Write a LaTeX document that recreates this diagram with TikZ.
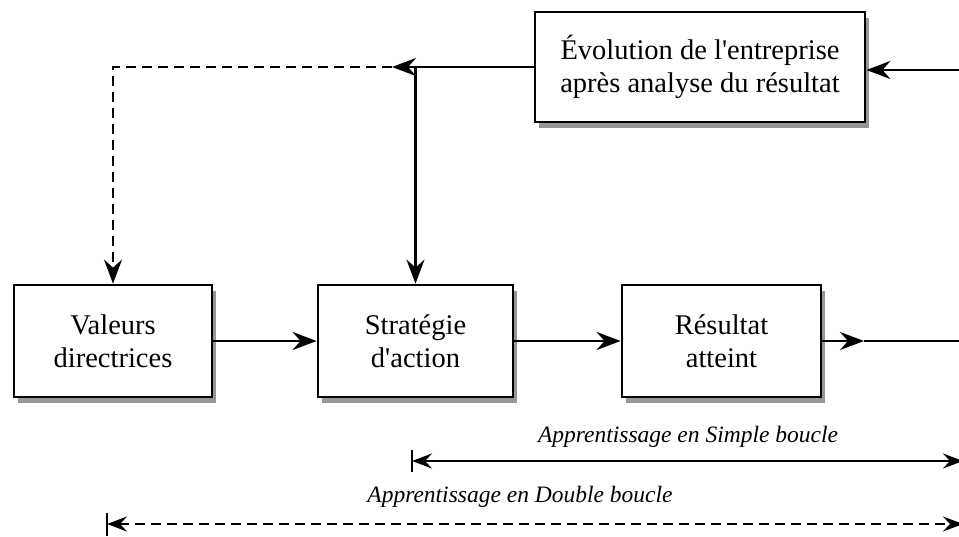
\documentclass[tikz,border=0pt]{standalone}
\usepackage{fontspec}
\setmainfont{Liberation Serif}[Ligatures=TeXOff]
\usetikzlibrary{arrows.meta,shadows,calc}
\begin{document}
\begin{tikzpicture}[x=1pt,y=-1pt,
  boxn/.style={draw=black,line width=2.8pt,fill=white,align=center,inner sep=0pt,
    font=\fontsize{28.5}{33}\selectfont,
    drop shadow={shadow xshift=4pt,shadow yshift=-6pt,opacity=0.55,fill=black!75}},
  conn/.style={line width=2.2pt,-{Stealth[length=24pt,width=18pt,inset=8pt]}},
  dconn/.style={conn,dash pattern=on 10pt off 6pt},
  lbl/.style={font=\fontsize{23.5}{28}\selectfont\itshape}]
\useasboundingbox (0,0) rectangle (959,536);
\fill[white] (0,0) rectangle (959,536);
\node[boxn,minimum width=330pt,minimum height=110pt] (evo) at (700,67) {Évolution de l'entreprise\\après analyse du résultat};
\node[boxn,minimum width=198pt,minimum height=112pt] (val) at (113,341) {Valeurs\\directrices};
\node[boxn,minimum width=195pt,minimum height=112pt] (strat) at (415.5,341) {Stratégie\\d'action};
\node[boxn,minimum width=199pt,minimum height=112pt] (res) at (721.5,341) {Résultat\\atteint};
% coordinates
\coordinate (rin) at (961,70);
\coordinate (tip) at (392,67);
\coordinate (jn) at (415.5,67);
\coordinate (dl) at (113,67);
\coordinate (mid) at (864,341);
\coordinate (rout) at (961,341);
% connectors
\draw[conn] (rin) -- (rin -| evo.east);
\draw[conn] (evo.west |- tip) -- (tip);
\draw[conn] (jn) -- (strat.north);
\draw[dconn] (tip) -- (dl) -- (val.north);
\draw[conn] (val.east) -- (strat.west);
\draw[conn] (strat.east) -- (res.west);
\draw[conn] (res.east) -- (mid);
\draw[line width=2.2pt] (mid) -- (rout);
% simple boucle
\coordinate (s1) at (412,461);
\coordinate (s2) at (963,461);
\coordinate (s1a) at (412,450);
\coordinate (s1b) at (412,472);
\draw[line width=2.2pt] (s1a) -- (s1b);
\draw[line width=2.2pt,{Stealth[length=20pt,width=15pt,inset=7pt]}-{Stealth[length=20pt,width=15pt,inset=7pt]}] (s1) -- (s2);
\node[lbl] (ls) at (688,437) {Apprentissage en Simple boucle};
% double boucle
\coordinate (d1) at (107,524);
\coordinate (d2) at (963,524);
\coordinate (d1a) at (107,513);
\coordinate (d1b) at (107,536);
\draw[line width=2.2pt] (d1a) -- (d1b);
\draw[line width=2.2pt,dash pattern=on 10pt off 6pt,{Stealth[length=20pt,width=15pt,inset=7pt]}-{Stealth[length=20pt,width=15pt,inset=7pt]}] (d1) -- (d2);
\node[lbl] (ld) at (520,497) {Apprentissage en Double boucle};
\end{tikzpicture}
\end{document}
